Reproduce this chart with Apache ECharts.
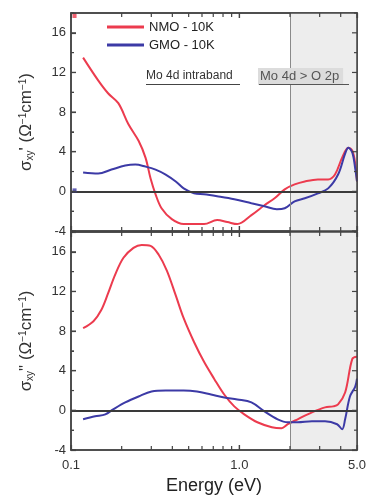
<!DOCTYPE html>
<html>
<head>
<meta charset="utf-8">
<script src="https://cdn.jsdelivr.net/npm/echarts@6/dist/echarts.min.js"></script>
<style>
  html, body { margin: 0; padding: 0; background: #fff; }
  #chart { width: 370px; height: 499px; }
</style>
</head>
<body>
<div id="chart"></div>
<script>
// Real part of the Hall conductivity (upper panel)
const nmoReE = [0.118, 0.145, 0.166, 0.191, 0.219, 0.252, 0.277, 0.297, 0.318, 0.345, 0.397, 0.467, 0.617, 0.738, 0.849, 0.973, 1.18, 1.41, 1.62, 1.86, 2.13, 2.45, 2.93, 3.37, 3.70, 4.08, 4.44, 4.69, 4.88, 5.0];
const nmoReV = [13.5, 11.2, 9.9, 8.9, 6.8, 5.1, 3.4, 1.3, -0.3, -1.7, -2.8, -3.3, -3.3, -2.9, -3.1, -3.3, -2.4, -1.4, -0.7, 0.2, 0.7, 1.0, 1.2, 1.2, 1.7, 3.4, 4.4, 4.1, 2.8, 1.0];
const gmoReE = [0.118, 0.145, 0.174, 0.210, 0.241, 0.277, 0.318, 0.365, 0.419, 0.467, 0.538, 0.617, 0.738, 0.933, 1.18, 1.41, 1.67, 1.86, 2.13, 2.45, 2.93, 3.37, 3.86, 4.25, 4.44, 4.69, 4.88, 5.0];
const gmoReV = [1.9, 1.8, 2.2, 2.6, 2.7, 2.5, 2.2, 1.7, 1.0, 0.3, -0.2, -0.3, -0.5, -0.8, -1.2, -1.5, -1.8, -1.7, -1.0, -0.7, -0.2, 0.3, 1.7, 3.8, 4.4, 3.9, 2.3, 1.0];

// Imaginary part of the Hall conductivity (lower panel)
const nmoImE = [0.118, 0.136, 0.151, 0.166, 0.183, 0.205, 0.235, 0.263, 0.297, 0.332, 0.371, 0.419, 0.467, 0.538, 0.617, 0.708, 0.813, 0.933, 1.07, 1.28, 1.56, 1.78, 1.94, 2.22, 2.70, 3.23, 3.61, 3.86, 4.25, 4.69, 5.0];
const nmoImV = [8.3, 9.0, 10.1, 11.8, 13.7, 15.4, 16.4, 16.7, 16.6, 15.7, 14.1, 11.6, 9.3, 6.9, 4.9, 3.2, 1.6, 0.4, -0.4, -1.2, -1.7, -1.8, -1.4, -0.9, -0.2, 0.3, 0.4, 0.6, 1.8, 5.2, 5.4];
const gmoImE = [0.118, 0.139, 0.160, 0.178, 0.210, 0.252, 0.301, 0.365, 0.467, 0.560, 0.679, 0.813, 0.973, 1.18, 1.41, 1.69, 1.94, 2.22, 2.70, 3.23, 3.81, 4.08, 4.25, 4.54, 4.88, 5.0];
const gmoImV = [-0.9, -0.6, -0.4, 0.1, 0.8, 1.4, 1.9, 2.0, 2.0, 1.9, 1.6, 1.3, 1.1, 0.8, -0.1, -0.9, -1.2, -1.2, -1.1, -1.1, -1.4, -1.9, -0.9, 1.4, 2.4, 3.2];

// Isolated markers near the upper-left corner
const nmoDot = [[0.105, 17.7]];
const gmoDot = [[0.105, 0.1]];

// Axis settings
const energyMin = 0.1, energyMax = 5.0;
const sigmaMin = -4, sigmaMax = 18, sigmaStep = 4, sigmaMinorStep = 2;
const interbandStart = 2.0;
const logMajorTicks = [0.1, 1, 5];
const logMinorTicks = [0.2, 0.3, 0.4, 0.5, 0.6, 0.7, 0.8, 0.9, 2, 3, 4];

const seriesNames = ['NMO - 10K', 'GMO - 10K'];
const RED = '#ec3b4e';
const BLUE = '#3c3aa6';
const AXIS = '#444';
const FONT = '"Liberation Sans", Arial, sans-serif';

const zip = (xs, ys) => xs.map((x, i) => [x, ys[i]]);

function xAxisDef(grid, pos, labels) {
  return {
    type: 'log', logBase: 10, gridIndex: grid, position: pos,
    min: energyMin, max: energyMax,
    axisLine: { show: true, onZero: false, lineStyle: { color: AXIS, width: 1.5 } },
    axisTick: { show: true, inside: true, length: 5, lineStyle: { color: AXIS, width: 1.2 } },
    axisLabel: {
      show: labels, color: '#333', fontSize: 13, fontFamily: FONT, margin: 9,
      formatter: v => Number(v).toFixed(1)
    },
    splitLine: { show: false },
    minorTick: { show: false },
    name: labels ? 'Energy (eV)' : '',
    nameLocation: 'middle', nameGap: 27,
    nameTextStyle: { fontSize: 18, color: '#222', fontFamily: FONT }
  };
}

function yAxisDef(grid, pos, name) {
  return {
    type: 'value', gridIndex: grid, position: pos,
    min: sigmaMin, max: sigmaMax, interval: sigmaStep,
    axisLine: { show: true, onZero: false, lineStyle: { color: AXIS, width: 1.5 } },
    axisTick: { show: true, inside: true, length: 5, lineStyle: { color: AXIS, width: 1.2 } },
    minorTick: { show: true, splitNumber: 2, length: 3, lineStyle: { color: AXIS, width: 1 } },
    axisLabel: {
      show: pos === 'left', color: '#333', fontSize: 13, fontFamily: FONT, margin: 5,
      showMaxLabel: false
    },
    splitLine: { show: false },
    name: name || '',
    nameLocation: 'middle', nameGap: 36, nameRotate: 90,
    nameTextStyle: {
      fontSize: 17, color: '#333', fontFamily: FONT,
      rich: {
        m: { fontSize: 17, fontFamily: FONT, color: '#333' },
        s: { fontSize: 10, fontFamily: FONT, color: '#333', verticalAlign: 'bottom', padding: [7, 0, 0, 0] },
        p: { fontSize: 10, fontFamily: FONT, color: '#333', verticalAlign: 'top', padding: [0, 0, 7, 0] }
      }
    }
  };
}

// Shaded interband window, its boundary and the zero line
function panelMarks() {
  return {
    markArea: {
      silent: true,
      itemStyle: { color: '#ededed' },
      data: [[{ xAxis: interbandStart }, { xAxis: energyMax }]]
    },
    markLine: {
      silent: true, symbol: 'none', label: { show: false },
      data: [
        { xAxis: interbandStart, lineStyle: { color: '#8a8a8a', width: 1, type: 'solid' } },
        { yAxis: 0, lineStyle: { color: '#3a3a3a', width: 1.8, type: 'solid' } }
      ]
    }
  };
}

// axisSet 0 = bottom/left pair, 1 = top/right pair (same scales)
function curve(name, grid, axisSet, data, color, withMarks) {
  const s = {
    name, type: 'line', xAxisIndex: grid * 2 + axisSet, yAxisIndex: grid * 2 + axisSet,
    data, smooth: 0.35, showSymbol: false, symbol: 'none',
    lineStyle: { color, width: 2 }, itemStyle: { color }, z: 3
  };
  return withMarks ? Object.assign(s, panelMarks()) : s;
}

const annotations = [
  {
    type: 'text', left: 146, top: 70, z: 10,
    style: { text: 'Mo 4d intraband', fontSize: 12, fill: '#333', fontFamily: FONT }
  },
  { type: 'rect', left: 146, top: 84, z: 10, shape: { width: 94, height: 1 }, style: { fill: '#444' } },
  {
    type: 'text', left: 258, top: 68, z: 10,
    style: {
      text: 'Mo 4d > O 2p', fontSize: 13, fill: '#555', fontFamily: FONT,
      backgroundColor: '#dcdcdc', padding: [2, 4, 2, 2]
    }
  },
  { type: 'rect', left: 259, top: 84, z: 11, shape: { width: 90, height: 1 }, style: { fill: '#555' } }
];

const option = {
  animation: false,
  backgroundColor: '#fff',
  textStyle: { fontFamily: FONT },
  grid: [
    { left: 71, right: 13, top: 13, height: 218 },
    { left: 71, right: 13, top: 232, height: 218 }
  ],
  xAxis: [
    xAxisDef(0, 'bottom', false), xAxisDef(0, 'top', false),
    xAxisDef(1, 'bottom', true), xAxisDef(1, 'top', false)
  ],
  yAxis: [
    yAxisDef(0, 'left', '{m|σ}{s|xy}{m|\' (Ω}{p|−1}{m|cm}{p|−1}{m|)}'), yAxisDef(0, 'right'),
    yAxisDef(1, 'left', '{m|σ}{s|xy}{m|" (Ω}{p|−1}{m|cm}{p|−1}{m|)}'), yAxisDef(1, 'right')
  ],
  legend: {
    data: seriesNames, orient: 'vertical', left: 102, top: 15,
    icon: 'rect', itemWidth: 37, itemHeight: 3, itemGap: 4,
    textStyle: { fontSize: 13, color: '#222', fontFamily: FONT, lineHeight: 14 }
  },
  graphic: annotations,
  series: [
    curve(seriesNames[0], 0, 0, zip(nmoReE, nmoReV), RED, true),
    curve(seriesNames[1], 0, 1, zip(gmoReE, gmoReV), BLUE, false),
    curve(seriesNames[0], 1, 0, zip(nmoImE, nmoImV), RED, true),
    curve(seriesNames[1], 1, 1, zip(gmoImE, gmoImV), BLUE, false),
    {
      name: 'nmo-dot', type: 'scatter', xAxisIndex: 0, yAxisIndex: 0, symbol: 'rect',
      symbolSize: 4, data: nmoDot, itemStyle: { color: RED }, z: 6
    },
    {
      name: 'gmo-dot', type: 'scatter', xAxisIndex: 0, yAxisIndex: 0, symbol: 'rect',
      symbolSize: 4, data: gmoDot, itemStyle: { color: BLUE }, z: 6
    }
  ]
};

const chart = echarts.init(document.getElementById('chart'), null, { renderer: 'canvas' });
chart.setOption(option);

// Panel frames and the inner ticks on every side, placed through each panel's scales
const frame = [];
const tickStyle = { stroke: AXIS, lineWidth: 1.2 };
const seg = (x1, y1, x2, y2, style) => ({
  type: 'line', z: 20, silent: true, shape: { x1, y1, x2, y2 }, style
});
for (let g = 0; g < 2; g++) {
  const px = (e, s) => chart.convertToPixel({ xAxisIndex: g * 2, yAxisIndex: g * 2 }, [e, s]);
  const tl = px(energyMin, sigmaMax);
  const br = px(energyMax, sigmaMin);
  frame.push({
    type: 'rect', z: 20, silent: true,
    shape: { x: tl[0], y: tl[1], width: br[0] - tl[0], height: br[1] - tl[1] },
    style: { fill: 'transparent', stroke: AXIS, lineWidth: 1.5 }
  });
  logMajorTicks.concat(logMinorTicks).forEach(e => {
    const len = logMajorTicks.includes(e) ? 5 : 4;
    const b = px(e, sigmaMin), t = px(e, sigmaMax);
    frame.push(seg(b[0], b[1], b[0], b[1] - len, tickStyle));
    frame.push(seg(t[0], t[1], t[0], t[1] + len, tickStyle));
  });
  for (let v = sigmaMin; v <= sigmaMax; v += sigmaMinorStep) {
    const len = (v - sigmaMin) % sigmaStep === 0 ? 5 : 3;
    const l = px(energyMin, v), r = px(energyMax, v);
    frame.push(seg(l[0], l[1], l[0] + len, l[1], tickStyle));
    frame.push(seg(r[0], r[1], r[0] - len, r[1], tickStyle));
  }
}
chart.setOption({ graphic: annotations.concat(frame) });
</script>
</body>
</html>
